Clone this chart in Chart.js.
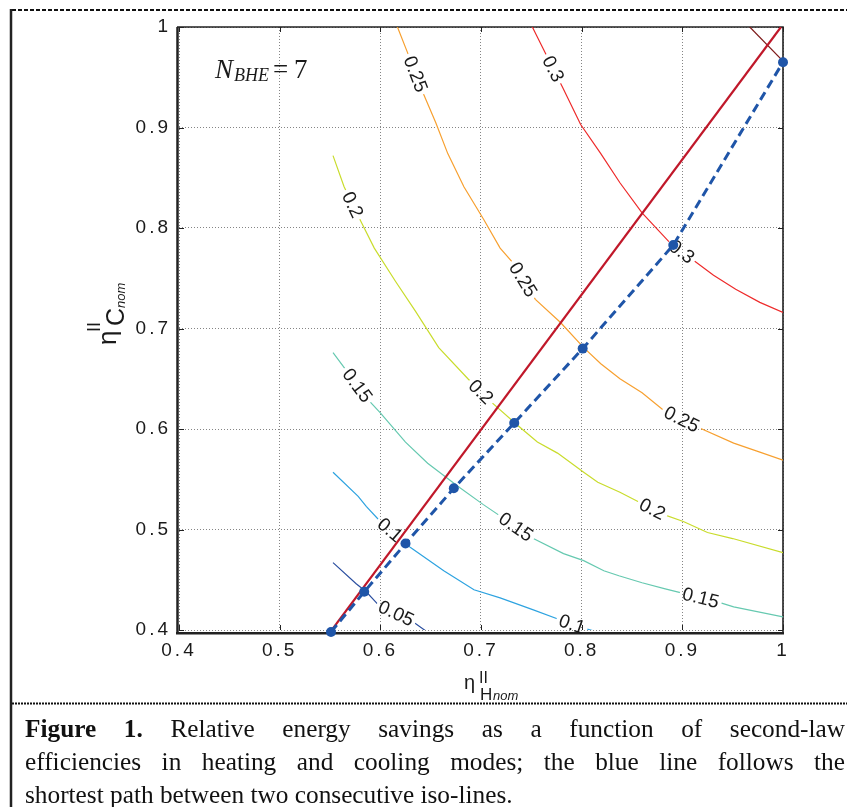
<!DOCTYPE html>
<html>
<head>
<meta charset="utf-8">
<script src="https://cdn.jsdelivr.net/npm/chart.js@4"></script>
<style>
  html, body { margin: 0; padding: 0; background: #fff; }
  #wrap { position: relative; width: 847px; height: 807px; overflow: hidden; }
  #chart { position: absolute; left: 0; top: 0; }
  #caption { position: absolute; left: 25px; top: 712px; width: 820px;
    font-family: "Liberation Serif", "Times New Roman", serif; font-size: 25.3px; line-height: 33px; color: #111; }
  #caption div { text-align: justify; text-align-last: justify; }
  #caption div.last { text-align-last: left; }
</style>
</head>
<body>
<div id="wrap">
  <canvas id="chart" width="847" height="807"></canvas>
  <div id="caption">
    <div><b>Figure 1.</b> Relative energy savings as a function of second-law</div>
    <div>efficiencies in heating and cooling modes; the blue line follows the</div>
    <div class="last">shortest path between two consecutive iso-lines.</div>
  </div>
</div>
<script>
//--DATA------------------------------------------------------------------------
const xTickLabels = ["0.4", "0.5", "0.6", "0.7", "0.8", "0.9", "1"];
const yTickLabels = ["0.4", "0.5", "0.6", "0.7", "0.8", "0.9", "1"];

// iso-lines of relative energy savings
const contourLevels = ["0.05", "0.1", "0.15", "0.2", "0.25", "0.3", "0.35"];
const contourColors = ["#2b4fa0", "#2ea3e0", "#66c9b0", "#c9dc2c", "#f7a030", "#ee2b2b", "#7d1818"];

const c05x = [0.553, 0.576, 0.586, 0.598, 0.630, 0.648];
const c05y = [0.467, 0.446, 0.438, 0.425, 0.410, 0.397];

const c10x = [0.553, 0.578, 0.586, 0.600, 0.630, 0.663, 0.693, 0.719, 0.752, 0.779, 0.802, 0.819];
const c10y = [0.557, 0.533, 0.523, 0.508, 0.482, 0.459, 0.440, 0.432, 0.420, 0.410, 0.402, 0.397];

const c15x = [0.553, 0.588, 0.600, 0.625, 0.647, 0.677, 0.702, 0.752, 0.782, 0.802, 0.822, 0.837, 0.860, 0.883, 0.935, 0.951, 1.0];
const c15y = [0.676, 0.629, 0.616, 0.587, 0.566, 0.543, 0.525, 0.491, 0.476, 0.469, 0.459, 0.454, 0.447, 0.441, 0.428, 0.423, 0.413];

const c20x = [0.553, 0.564, 0.579, 0.594, 0.615, 0.635, 0.658, 0.687, 0.710, 0.736, 0.756, 0.776, 0.802, 0.816, 0.838, 0.881, 0.901, 0.925, 0.950, 1.0];
const c20y = [0.872, 0.841, 0.810, 0.780, 0.747, 0.717, 0.681, 0.650, 0.627, 0.604, 0.587, 0.576, 0.557, 0.547, 0.537, 0.515, 0.508, 0.497, 0.491, 0.477];

const c25x = [0.617, 0.628, 0.643, 0.655, 0.667, 0.683, 0.703, 0.719, 0.732, 0.754, 0.779, 0.802, 0.819, 0.838, 0.860, 0.881, 0.915, 0.951, 0.977, 1.0];
const c25y = [1.0, 0.972, 0.933, 0.905, 0.874, 0.841, 0.808, 0.780, 0.765, 0.729, 0.706, 0.681, 0.665, 0.650, 0.636, 0.619, 0.602, 0.586, 0.577, 0.569];

const c30x = [0.751, 0.766, 0.781, 0.799, 0.819, 0.838, 0.860, 0.888, 0.911, 0.931, 0.953, 0.977, 1.0];
const c30y = [1.0, 0.970, 0.940, 0.903, 0.874, 0.845, 0.815, 0.785, 0.768, 0.753, 0.739, 0.726, 0.716];

const c35x = [0.967, 1.0];
const c35y = [1.0, 0.966];

const contourX = [c05x, c10x, c15x, c20x, c25x, c30x, c35x];
const contourY = [c05y, c10y, c15y, c20y, c25y, c30y, c35y];

// inline contour labels: level index + approximate anchor
const labelLevel = [5, 4, 3, 4, 5, 2, 3, 4, 2, 3, 1, 2, 0, 1];
const labelX = [0.769, 0.632, 0.568, 0.739, 0.899, 0.574, 0.698, 0.899, 0.733, 0.869, 0.610, 0.918, 0.615, 0.790];
const labelY = [0.957, 0.952, 0.821, 0.747, 0.776, 0.641, 0.635, 0.609, 0.500, 0.518, 0.500, 0.431, 0.415, 0.405];

// red diagonal
const diagX = [0.551, 0.998];
const diagY = [0.399, 1.0];

// shortest path (blue)
const pathX = [0.551, 0.584, 0.625, 0.673, 0.733, 0.801, 0.891, 1.0];
const pathY = [0.398, 0.438, 0.486, 0.541, 0.606, 0.680, 0.783, 0.965];

//--HELPERS---------------------------------------------------------------------
const SANS = '"Liberation Sans", Arial, sans-serif';
const SERIF = '"Liberation Serif", "Times New Roman", serif';
const LABEL_FONT = "19px " + SANS;

function pts(xs, ys) {
  return xs.map((x, i) => ({ x: x, y: ys[i] }));
}

function labelBoxes(chart) {
  const xs = chart.scales.x;
  const ys = chart.scales.y;
  const ctx = chart.ctx;
  ctx.font = LABEL_FONT;
  return labelLevel.map((lvl, i) => {
    const px = xs.getPixelForValue(labelX[i]);
    const py = ys.getPixelForValue(labelY[i]);
    const cx = contourX[lvl];
    const cy = contourY[lvl];
    let best = null;
    for (let j = 0; j < cx.length - 1; j++) {
      const ax = xs.getPixelForValue(cx[j]), ay = ys.getPixelForValue(cy[j]);
      const bx = xs.getPixelForValue(cx[j + 1]), by = ys.getPixelForValue(cy[j + 1]);
      const dx = bx - ax, dy = by - ay;
      let t = ((px - ax) * dx + (py - ay) * dy) / (dx * dx + dy * dy);
      t = Math.max(0, Math.min(1, t));
      const qx = ax + t * dx, qy = ay + t * dy;
      const d = Math.hypot(px - qx, py - qy);
      let a = Math.atan2(dy, dx);
      if (dx < 0) a += Math.PI;
      if (!best || d < best.d) best = { d: d, x: qx, y: qy, a: a };
    }
    const text = contourLevels[lvl];
    return { lvl: lvl, text: text, x: best.x, y: best.y, a: best.a, w: ctx.measureText(text).width + 6, h: 16 };
  });
}

function drawLabels(chart) {
  const ctx = chart.ctx;
  ctx.save();
  const boxes = labelBoxes(chart);
  ctx.fillStyle = "#1a1a1a";
  ctx.textAlign = "center";
  ctx.textBaseline = "middle";
  boxes.forEach((b) => {
    ctx.save();
    ctx.translate(b.x, b.y);
    ctx.rotate(b.a);
    ctx.fillText(b.text, 0, 1);
    ctx.restore();
  });
  ctx.restore();
}

//--PLUGINS---------------------------------------------------------------------
const contourPlugin = {
  id: "contourLabels",
  beforeDraw(chart) {
    chart.ctx.letterSpacing = "3px";
  },
  beforeDatasetsDraw(chart) {
    const ctx = chart.ctx;
    ctx.letterSpacing = "0px";
    const a = chart.chartArea;
    const xs = chart.scales.x, ys = chart.scales.y;
    ctx.save();
    ctx.strokeStyle = "#222";
    // box
    ctx.lineWidth = 2.5;
    ctx.beginPath();
    ctx.moveTo(177.5, a.top); ctx.lineTo(177.5, 634);
    ctx.moveTo(176, 633.2); ctx.lineTo(a.right + 1, 633.2);
    ctx.stroke();
    ctx.lineWidth = 1.6;
    ctx.beginPath();
    ctx.moveTo(177, a.top); ctx.lineTo(a.right + 0.8, a.top);
    ctx.moveTo(a.right, a.top); ctx.lineTo(a.right, 634);
    ctx.stroke();
    // inward ticks
    ctx.lineWidth = 1;
    ctx.beginPath();
    xs.ticks.forEach((t) => {
      const p = Math.round(xs.getPixelForValue(t.value)) + 0.5;
      ctx.moveTo(p, a.bottom); ctx.lineTo(p, a.bottom - 5);
      ctx.moveTo(p, a.top); ctx.lineTo(p, a.top + 5);
    });
    ys.ticks.forEach((t) => {
      const p = Math.round(ys.getPixelForValue(t.value)) + 0.5;
      ctx.moveTo(a.left, p); ctx.lineTo(a.left + 5, p);
      ctx.moveTo(a.right, p); ctx.lineTo(a.right - 5, p);
    });
    ctx.stroke();
    ctx.restore();
  },
  beforeDatasetDraw(chart, args) {
    const k = args.index - 2;
    if (k < 0) return;
    const ctx = chart.ctx;
    const boxes = labelBoxes(chart).filter((b) => b.lvl === k);
    ctx.save();
    ctx.beginPath();
    ctx.rect(0, 0, chart.width, chart.height);
    boxes.forEach((b) => {
      const c = Math.cos(b.a), s = Math.sin(b.a), hw = b.w / 2, hh = b.h / 2;
      const p = [[-hw, -hh], [hw, -hh], [hw, hh], [-hw, hh]].map(([u, v]) => [b.x + u * c - v * s, b.y + u * s + v * c]);
      ctx.moveTo(p[0][0], p[0][1]);
      for (let i = 1; i < 4; i++) ctx.lineTo(p[i][0], p[i][1]);
      ctx.closePath();
    });
    ctx.clip("evenodd");
  },
  afterDatasetDraw(chart, args) {
    const k = args.index - 2;
    if (k < 0) return;
    chart.ctx.restore();
    if (args.index === 2) drawLabels(chart);
  },
  afterDraw(chart) {
    const ctx = chart.ctx;
    ctx.save();
    ctx.fillStyle = "#1a1a1a";
    ctx.textAlign = "left";
    ctx.textBaseline = "alphabetic";

    // N_BHE = 7
    ctx.font = "italic 27px " + SERIF;
    ctx.fillText("N", 215, 78);
    ctx.font = "italic 18px " + SERIF;
    ctx.fillText("BHE", 234, 81);
    ctx.font = "27px " + SERIF;
    ctx.fillText("=", 273, 78);
    ctx.fillText("7", 294, 78);

    // x axis title
    ctx.font = "20px " + SANS;
    ctx.fillText("\u03b7", 464, 689);
    ctx.font = "16px " + SANS;
    ctx.fillText("II", 479, 683);
    ctx.font = "17px " + SANS;
    ctx.fillText("H", 480, 700);
    ctx.font = "italic 13px " + SANS;
    ctx.fillText("nom", 493, 700);

    // y axis title
    ctx.save();
    ctx.translate(116, 345);
    ctx.rotate(-Math.PI / 2);
    ctx.font = "26px " + SANS;
    ctx.fillText("\u03b7", 0, 0);
    ctx.font = "18px " + SANS;
    ctx.fillText("II", 13, -16);
    ctx.font = "25px " + SANS;
    ctx.fillText("C", 19, 8);
    ctx.font = "italic 13px " + SANS;
    ctx.fillText("nom", 37, 9);
    ctx.restore();

    // figure frame
    ctx.strokeStyle = "#111";
    ctx.lineWidth = 2;
    ctx.setLineDash([4, 2]);
    ctx.beginPath(); ctx.moveTo(12, 10); ctx.lineTo(847, 10); ctx.stroke();
    ctx.setLineDash([2, 1]);
    ctx.beginPath(); ctx.moveTo(12, 703.5); ctx.lineTo(847, 703.5); ctx.stroke();
    ctx.setLineDash([]);
    ctx.lineWidth = 2.5;
    ctx.strokeStyle = "#222";
    ctx.beginPath(); ctx.moveTo(11, 9); ctx.lineTo(11, 807); ctx.stroke();
    ctx.restore();
  }
};

//--CHART-----------------------------------------------------------------------
const BLUE = "#1f55a8";
const RED = "#c0182a";

const datasets = [
  {
    data: pts(pathX, pathY), showLine: true, borderColor: BLUE, borderWidth: 3, borderDash: [9, 5],
    pointRadius: 5, pointBackgroundColor: BLUE, pointBorderColor: BLUE, pointBorderWidth: 0, clip: false
  },
  { data: pts(diagX, diagY), showLine: true, borderColor: RED, borderWidth: 2.2, pointRadius: 0 }
];
contourX.forEach((xs, k) => {
  datasets.push({
    data: pts(xs, contourY[k]), showLine: true, borderColor: contourColors[k],
    borderWidth: 1.2, pointRadius: 0, tension: 0
  });
});

function axisOpts(labels, fit, pad) {
  return {
    type: "linear", min: 0.4, max: 1,
    afterFit: fit,
    ticks: {
      stepSize: 0.1, autoSkip: false, padding: pad, color: "#1a1a1a",
      font: { family: "Liberation Sans", size: 19 },
      callback: (v, i) => labels[i]
    },
    grid: { color: "#858585", lineWidth: 1, drawTicks: false },
    border: { display: false, dash: [1, 2] }
  };
}

new Chart(document.getElementById("chart").getContext("2d"), {
  type: "scatter",
  data: { datasets: datasets },
  options: {
    responsive: false,
    animation: false,
    events: [],
    layout: { padding: { left: 0, top: 27, right: 64, bottom: 0 } },
    plugins: { legend: { display: false }, tooltip: { enabled: false } },
    scales: {
      x: axisOpts(xTickLabels, (s) => { s.height = 177; }, 9),
      y: axisOpts(yTickLabels, (s) => { s.width = 179; }, 8)
    }
  },
  plugins: [contourPlugin]
});
</script>
</body>
</html>
